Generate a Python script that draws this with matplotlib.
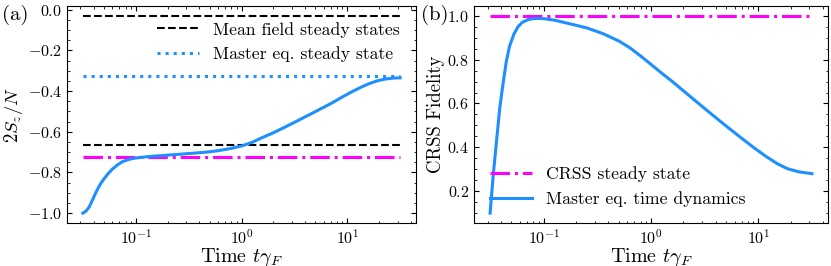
import numpy as np
import matplotlib
matplotlib.use("Agg")
import matplotlib.pyplot as plt
from matplotlib.ticker import AutoMinorLocator

# --- donnees ---
# panneau (a) : 2S_z/N en fonction du temps
t_a = [0.0316, 0.0339, 0.0363, 0.0398, 0.0421, 0.0457, 0.049, 0.055, 0.0603,
       0.0676, 0.0748, 0.0871, 0.1, 0.126, 0.166, 0.24, 0.339, 0.468, 0.603,
       0.794, 1.0, 1.26, 1.55, 2.0, 2.51, 3.16, 3.98, 4.79, 5.62, 7.08, 8.13,
       9.33, 11.2, 13.5, 15.8, 19.1, 22.9, 27.5, 31.6]
sz_a = [-1.0, -0.99, -0.97, -0.925, -0.897, -0.862, -0.838, -0.805, -0.783,
        -0.762, -0.747, -0.735, -0.729, -0.723, -0.718, -0.712, -0.706, -0.700,
        -0.693, -0.682, -0.670, -0.652, -0.630, -0.605, -0.580, -0.554, -0.527,
        -0.506, -0.487, -0.460, -0.442, -0.424, -0.402, -0.381, -0.365,
        -0.350, -0.341, -0.336, -0.335]
mf_states = [-0.03, -0.667]   # mean field steady states
master_ss = -0.325            # master eq. steady state
crss_sz = -0.722              # CRSS steady state (a)

# panneau (b) : fidelite CRSS
t_b = [0.0316, 0.0339, 0.0363, 0.0389, 0.0417, 0.0447, 0.0479, 0.0525, 0.0575,
       0.0631, 0.0708, 0.0794, 0.0891, 0.1, 0.126, 0.17, 0.251, 0.355, 0.501,
       0.631, 0.794, 1.0, 1.26, 1.58, 2.24, 3.31, 4.79, 6.76, 9.12, 12.0,
       15.1, 18.6, 24.0, 31.6]
fid_b = [0.10, 0.28, 0.43, 0.58, 0.69, 0.79, 0.86, 0.915, 0.95, 0.97, 0.982,
         0.987, 0.988, 0.987, 0.980, 0.965, 0.945, 0.919, 0.885, 0.855, 0.818,
         0.778, 0.738, 0.700, 0.638, 0.569, 0.505, 0.447, 0.398, 0.356, 0.325,
         0.303, 0.288, 0.280]
crss_fid = 1.0

blue = '#1f8fff'
magenta = '#ff00ff'

plt.rcParams['font.family'] = 'serif'
plt.rcParams['font.serif'] = ['cmr10']
plt.rcParams['mathtext.fontset'] = 'cm'
plt.rcParams['axes.formatter.use_mathtext'] = True
plt.rcParams['font.size'] = 12.5
plt.rcParams['xtick.labelsize'] = 11.5
plt.rcParams['ytick.labelsize'] = 11.5
plt.rcParams['xtick.direction'] = 'in'
plt.rcParams['ytick.direction'] = 'in'
plt.rcParams['xtick.top'] = True
plt.rcParams['ytick.right'] = True
plt.rcParams['xtick.major.size'] = 3.5
plt.rcParams['ytick.major.size'] = 3.5
plt.rcParams['xtick.minor.size'] = 1.8
plt.rcParams['ytick.minor.size'] = 1.8
plt.rcParams['xtick.minor.visible'] = True
plt.rcParams['ytick.minor.visible'] = True
plt.rcParams['legend.frameon'] = False
plt.rcParams['legend.fontsize'] = 12.7

fig = plt.figure(figsize=(8.31, 2.66), dpi=100)
ax1 = fig.add_axes([0.0806, 0.1617, 0.42, 0.816])
ax2 = fig.add_axes([0.5704, 0.1617, 0.426, 0.816])

# (a)
ax1.plot(t_a, sz_a, color=blue, lw=2.2, zorder=3)
ax1.plot([t_a[0], t_a[-1]], [mf_states[0]] * 2, 'k--', lw=1.5,
         label='Mean field steady states')
ax1.plot([t_a[0], t_a[-1]], [mf_states[1]] * 2, 'k--', lw=1.5)
ax1.plot([t_a[0], t_a[-1]], [master_ss] * 2, ':', color=blue, lw=2.2,
         label='Master eq. steady state')
ax1.plot([t_a[0], t_a[-1]], [crss_sz] * 2, '-.', color=magenta, lw=2.2)
ax1.set_xscale('log')
ax1.set_xlabel(r'Time $t\gamma_F$', fontsize=14.5, labelpad=-0.5)
ax1.set_ylabel(r'$2S_z/N$', fontsize=13.5)
ax1.yaxis.set_label_coords(-0.12, 0.5)
ax1.yaxis.set_minor_locator(AutoMinorLocator(4))
ax1.legend(loc='upper right', handlelength=2.4)

# (b)
ax2.plot([t_b[0], t_b[-1]], [crss_fid] * 2, '-.', color=magenta, lw=2.2,
         label='CRSS steady state')
ax2.plot(t_b, fid_b, color=blue, lw=2.2, label='Master eq. time dynamics')
ax2.set_xscale('log')
ax2.set_xlabel(r'Time $t\gamma_F$', fontsize=14.5, labelpad=-0.5)
ax2.set_ylabel('CRSS Fidelity', fontsize=13.5)
ax2.yaxis.set_label_coords(-0.082, 0.5)
ax2.yaxis.set_minor_locator(AutoMinorLocator(4))
ax2.legend(loc='lower left', handlelength=2.4)

fig.text(0.003, 0.944, '(a)', fontsize=15, va='center')
fig.text(0.507, 0.944, '(b)', fontsize=15, va='center')

fig.savefig('out.png', dpi=100)
